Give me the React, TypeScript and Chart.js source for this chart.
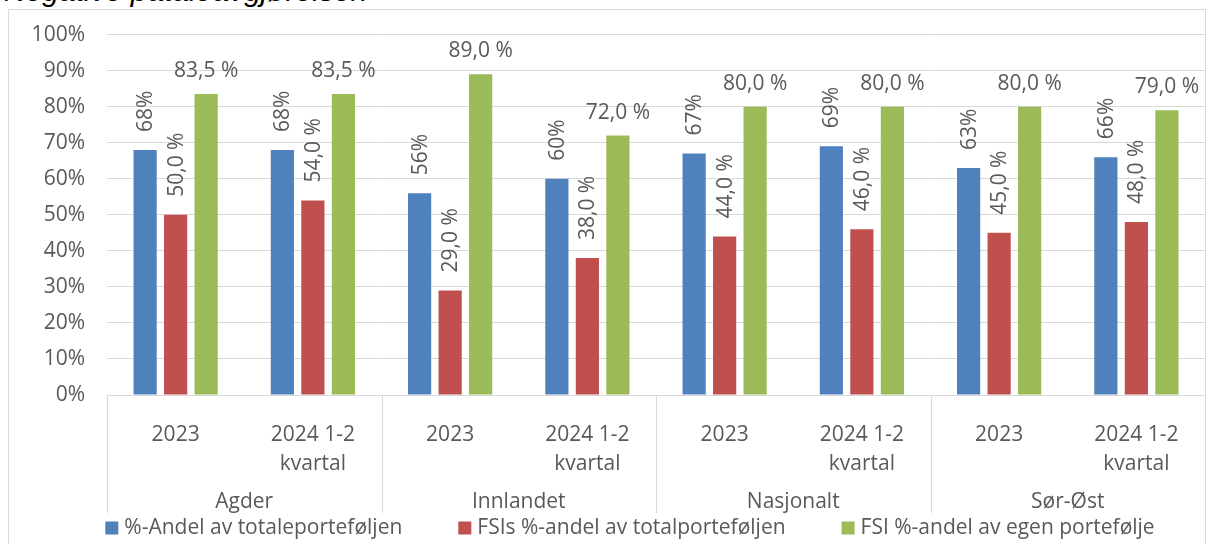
import React, { useEffect, useRef } from 'react';
import { Chart, registerables } from 'chart.js';

Chart.register(...registerables);

const FONT_FAMILY = '"Open Sans", sans-serif';
const FONT_SIZE = 21;
const TEXT_COLOR = '#595959';
const LINE_COLOR = '#d9d9d9';

const title = 'Negative påtaleavgjørelsen';
const regions = ['Agder', 'Innlandet', 'Nasjonalt', 'Sør-Øst'];
const periods: string[][] = [['2023'], ['2024 1-2', 'kvartal']];
const seriesNames = [
  '%-Andel av totaleporteføljen',
  'FSIs %-andel av totalporteføljen',
  'FSI %-andel av egen portefølje',
];
const seriesColors = ['#4f81bd', '#c0504d', '#9bbb59'];

// values per (region, period): Agder 2023, Agder 2024, Innlandet 2023, ...
const andelTotal = [68, 68, 56, 60, 67, 69, 63, 66];
const fsiAndelTotal = [50, 54, 29, 38, 44, 46, 45, 48];
const fsiAndelEgen = [83.5, 83.5, 89, 72, 80, 80, 80, 79];

const yMin = 0;
const yMax = 100;
const yStep = 10;

const categoryLabels = regions.flatMap(() => periods);

const fmtInt = (v: number) => `${Math.round(v)}%`;
const fmtDec = (v: number) => `${v.toFixed(1).replace('.', ',')} %`;

const labelFormats = [fmtInt, fmtDec, fmtDec];
const labelRotated = [true, true, false];

const font = (size = FONT_SIZE) => `${size}px ${FONT_FAMILY}`;

const decorPlugin = {
  id: 'decor',
  afterDatasetsDraw(chart: any) {
    const ctx = chart.ctx;
    ctx.save();
    ctx.fillStyle = TEXT_COLOR;
    ctx.font = font();
    chart.data.datasets.forEach((ds: any, di: number) => {
      const meta = chart.getDatasetMeta(di);
      meta.data.forEach((bar: any, i: number) => {
        const text = labelFormats[di](ds.data[i]);
        if (labelRotated[di]) {
          ctx.save();
          ctx.translate(bar.x, bar.y - 18);
          ctx.rotate(-Math.PI / 2);
          ctx.textAlign = 'left';
          ctx.textBaseline = 'middle';
          ctx.fillText(text, 0, 1);
          ctx.restore();
        } else {
          ctx.textAlign = 'center';
          ctx.textBaseline = 'alphabetic';
          ctx.fillText(text, bar.x, bar.y - 17);
        }
      });
    });
    ctx.restore();
  },
  afterDraw(chart: any) {
    const ctx = chart.ctx;
    const xs = chart.scales.x;
    const area = chart.chartArea;
    const nPer = periods.length;
    ctx.save();
    ctx.strokeStyle = LINE_COLOR;
    ctx.lineWidth = 1;
    // axis line
    ctx.beginPath();
    ctx.moveTo(area.left, Math.round(area.bottom) + 0.5);
    ctx.lineTo(area.right, Math.round(area.bottom) + 0.5);
    ctx.stroke();
    const half = (xs.getPixelForValue(1) - xs.getPixelForValue(0)) / 2;
    const sepBottom = area.bottom + 118;
    for (let g = 0; g <= regions.length; g++) {
      let x: number;
      if (g === 0) x = xs.getPixelForValue(0) - half;
      else x = xs.getPixelForValue(g * nPer - 1) + half;
      x = Math.round(x) + 0.5;
      ctx.beginPath();
      ctx.moveTo(x, area.bottom);
      ctx.lineTo(x, sepBottom);
      ctx.stroke();
    }
    // group labels
    ctx.fillStyle = TEXT_COLOR;
    ctx.font = font();
    ctx.textAlign = 'center';
    ctx.textBaseline = 'middle';
    regions.forEach((r, g) => {
      const x0 = xs.getPixelForValue(g * nPer);
      const x1 = xs.getPixelForValue(g * nPer + nPer - 1);
      ctx.fillText(r, (x0 + x1) / 2, area.bottom + 107);
    });
    // legend
    const box = 13;
    const textGap = 6;
    const itemGap = 56;
    const widths = seriesNames.map((s) => box + textGap + ctx.measureText(s).width);
    const total = widths.reduce((a, b) => a + b, 0) + itemGap * (widths.length - 1);
    let x = 630 - total / 2;
    const ly = area.bottom + 133;
    ctx.textAlign = 'left';
    seriesNames.forEach((s, i) => {
      ctx.fillStyle = seriesColors[i];
      ctx.fillRect(x, ly - box / 2, box, box);
      ctx.fillStyle = TEXT_COLOR;
      ctx.fillText(s, x + box + textGap, ly);
      x += widths[i] + itemGap;
    });
    ctx.restore();
  },
};

export default function App() {
  const ref = useRef<HTMLCanvasElement | null>(null);
  useEffect(() => {
    if (!ref.current) return;
    const chart = new Chart(ref.current, {
      type: 'bar',
      data: {
        labels: categoryLabels,
        datasets: [andelTotal, fsiAndelTotal, fsiAndelEgen].map((d, i) => ({
          label: seriesNames[i],
          data: d,
          backgroundColor: seriesColors[i],
          borderWidth: 0,
          categoryPercentage: 0.667,
          barPercentage: 0.76,
        })),
      },
      options: {
        animation: false,
        responsive: false,
        devicePixelRatio: 1,
        layout: { padding: { left: 0, right: 3, top: 32, bottom: 0 } },
        plugins: {
          legend: { display: false },
          tooltip: { enabled: false },
          title: { display: false },
        },
        scales: {
          x: {
            type: 'category',
            grid: { display: false },
            border: { display: false },
            ticks: {
              color: TEXT_COLOR,
              font: { family: FONT_FAMILY, size: FONT_SIZE, lineHeight: 1.38 },
              padding: 18,
              maxRotation: 0,
              autoSkip: false,
            },
            afterFit(scale: any) {
              scale.height = 165;
            },
          },
          y: {
            min: yMin,
            max: yMax,
            grid: { color: LINE_COLOR, drawTicks: false, lineWidth: 1 },
            border: { display: false },
            ticks: {
              stepSize: yStep,
              color: TEXT_COLOR,
              font: { family: FONT_FAMILY, size: FONT_SIZE },
              padding: 22,
              callback: (v: any) => `${v}%`,
            },
            afterFit(scale: any) {
              scale.width = 107;
            },
          },
        },
      },
      plugins: [decorPlugin],
    });
    return () => chart.destroy();
  }, []);

  return (
    <div style={{ position: 'absolute', left: 0, top: 0, width: 1208, height: 544, overflow: 'hidden', background: '#fff' }}>
      <div
        style={{
          position: 'absolute',
          left: 4,
          top: -24,
          font: 'italic 30px "Liberation Sans", Arial, sans-serif',
          lineHeight: '30px',
          color: '#000',
          whiteSpace: 'nowrap',
        }}
      >
        {title}
      </div>
      <div
        style={{
          position: 'absolute',
          left: 8,
          top: 9,
          width: 1198,
          height: 600,
          border: `1px solid ${LINE_COLOR}`,
          boxSizing: 'border-box',
        }}
      />
      <canvas ref={ref} width={1208} height={560} style={{ position: 'absolute', left: 0, top: 0, width: 1208, height: 560 }} />
    </div>
  );
}
